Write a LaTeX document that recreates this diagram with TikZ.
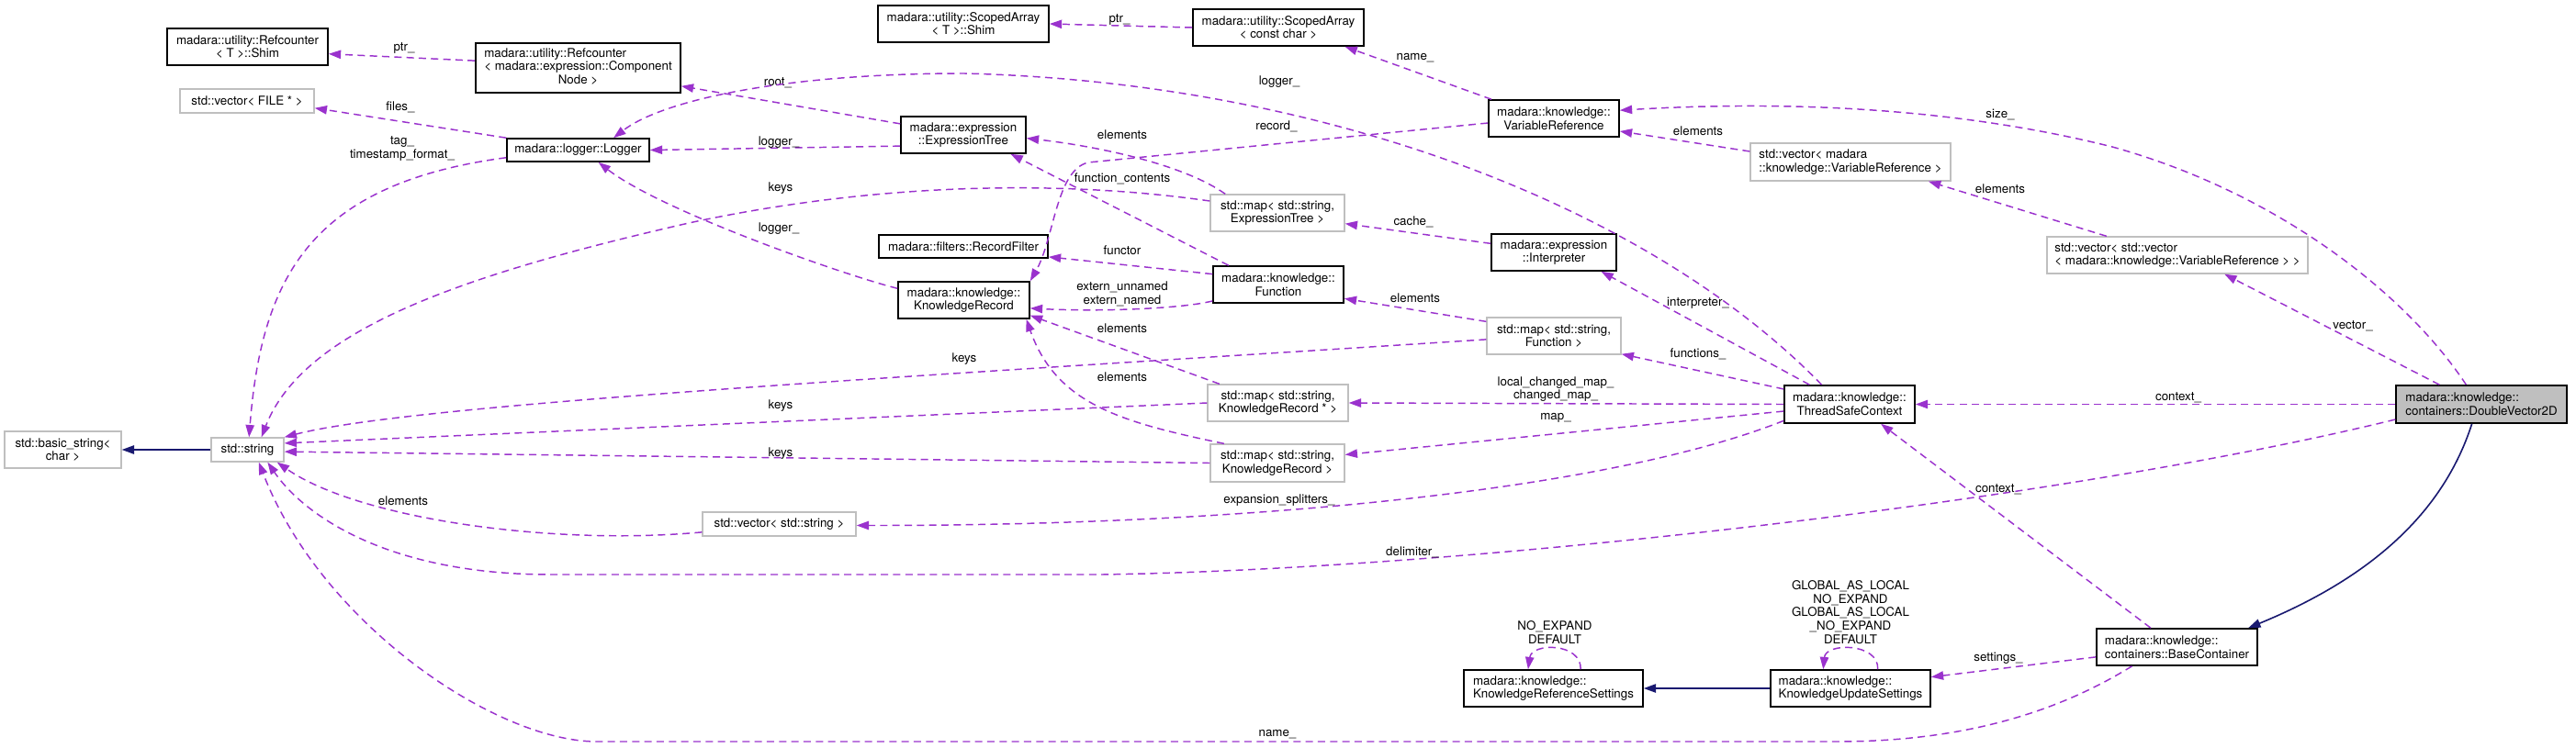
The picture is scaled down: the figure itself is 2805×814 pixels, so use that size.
\documentclass[tikz,border=0pt]{standalone}
\usepackage{fontspec}
\setmainfont{TeX Gyre Heros}
\usetikzlibrary{arrows.meta}

\definecolor{depline}{HTML}{9A32CD}
\definecolor{inhline}{HTML}{191970}
\definecolor{extbox}{HTML}{BFBFBF}

\tikzset{
  cls/.style={draw=black, line width=1.2pt, align=center, inner sep=2pt,
    font=\fontsize{10}{11}\selectfont},
  ext/.style={cls, draw=extbox, line width=1pt},
  cur/.style={cls, fill=extbox},
  boxw/.style={minimum width=#1*0.75pt},
  boxh/.style={minimum height=#1*0.75pt},
  dep/.style={draw=depline, line width=1.1pt, dash pattern=on 6pt off 4pt,
    -{Triangle[length=10pt,width=7pt]}},
  inh/.style={draw=inhline, line width=1.2pt, -{Triangle[length=10pt,width=7pt]}},
  lbl/.style={inner sep=0pt, align=center, text=black,
    font=\fontsize{10}{11}\selectfont},
}

\begin{document}
\begin{tikzpicture}[x=0.75pt, y=-0.75pt]
\useasboundingbox (0,0) rectangle (2805,814);

% classes
\node[cls, boxw=175, boxh=40] (shimref) at (269.5,51) {madara::utility::Refcounter\\< T >::Shim};
\node[cls, boxw=223, boxh=54] (refnode) at (629.5,74) {\begin{tabular}{@{}l@{}}madara::utility::Refcounter\\< madara::expression::Component\\\multicolumn{1}{@{}c@{}}{Node >}\end{tabular}};
\node[ext, boxw=146, boxh=26] (vecfile) at (269,110) {std::vector< FILE * >};
\node[cls, boxw=155, boxh=25] (logger) at (629.5,163.5) {madara::logger::Logger};
\node[cls, boxw=186, boxh=40] (shimscoped) at (1049,26) {madara::utility::ScopedArray\\< T >::Shim};
\node[cls, boxw=186, boxh=40] (scopedchar) at (1392,30) {madara::utility::ScopedArray\\< const char >};
\node[cls, boxw=142, boxh=40] (varref) at (1692,129) {madara::knowledge::\\VariableReference};
\node[cls, boxw=136, boxh=40] (exprtree) at (1049,147) {madara::expression\\::ExpressionTree};
\node[ext, boxw=146, boxh=40] (mapexpr) at (1391,232) {std::map< std::string,\\ExpressionTree >};
\node[cls, boxw=184, boxh=25] (recfilter) at (1049,268.5) {madara::filters::RecordFilter};
\node[cls, boxw=136, boxh=40] (interp) at (1692,275) {madara::expression\\::Interpreter};
\node[ext, boxw=218, boxh=41, align=left] (vecvarref) at (2015,176.5) {std::vector< madara\\::knowledge::VariableReference >};
\node[ext, boxw=284, boxh=40, align=left] (vecvecref) at (2371,278) {std::vector< std::vector\\< madara::knowledge::VariableReference > >};
\node[ext, boxw=127, boxh=40] (basicstr) at (68.5,490) {std::basic\_string<\\char >};
\node[ext, boxw=79, boxh=26] (stdstr) at (269.5,490) {std::string};
\node[cls, boxw=143, boxh=40] (krecord) at (1049.5,327) {madara::knowledge::\\KnowledgeRecord};
\node[cls, boxw=142, boxh=40] (func) at (1392,310) {madara::knowledge::\\Function};
\node[ext, boxw=146, boxh=40] (mapfunc) at (1692,366) {std::map< std::string,\\Function >};
\node[ext, boxw=153, boxh=40] (mapkrptr) at (1391.5,439) {std::map< std::string,\\KnowledgeRecord * >};
\node[ext, boxw=146, boxh=41] (mapkr) at (1391,504.5) {std::map< std::string,\\KnowledgeRecord >};
\node[cls, boxw=142, boxh=41] (tsc) at (2014,440.5) {madara::knowledge::\\ThreadSafeContext};
\node[cur, boxw=186, boxh=41, align=left] (dvec) at (2702,440.5) {madara::knowledge::\\containers::DoubleVector2D};
\node[ext, boxw=167, boxh=26] (vecstr) at (848.5,571) {std::vector< std::string >};
\node[cls, boxw=195, boxh=40, align=left] (krefset) at (1691.5,750) {madara::knowledge::\\KnowledgeReferenceSettings};
\node[cls, boxw=174, boxh=40, align=left] (kupdset) at (2015,750) {madara::knowledge::\\KnowledgeUpdateSettings};
\node[cls, boxw=175, boxh=40, align=left] (basecont) at (2370.5,705) {madara::knowledge::\\containers::BaseContainer};

% inheritance
\draw[inh] (stdstr.west) -- (basicstr.east);
\draw[inh] (kupdset.west) -- (krefset.east);
\draw[inh] (dvec.244) .. controls (2660,560) and (2580,630) .. (basecont.15);

% members
\draw[dep] (refnode.176) -- (shimref.355) node[lbl] at (440,52) {ptr\_};
\draw[dep] (logger.north west) -- (vecfile.354) node[lbl] at (436,117) {files\_};
\draw[dep] (logger.186) .. controls (340,200) and (285,300) .. (stdstr.83)
  node[lbl] at (438,162) {tag\_\\timestamp\_format\_};
\draw[dep] (exprtree.170) -- (refnode.350) node[lbl] at (847,90) {root\_};
\draw[dep] (tsc.145) .. controls (1800,230) and (1450,90) .. (1050,80)
  .. controls (850,80) and (720,110) .. (logger.19) node[lbl] at (1393,89) {logger\_};
\draw[dep] (exprtree.190) -- (logger.east) node[lbl] at (848,155) {logger\_};
\draw[dep] (krecord.170) .. controls (920,300) and (720,230) .. (logger.329)
  node[lbl] at (848,249) {logger\_};
\draw[dep] (mapexpr.170) .. controls (1150,195) and (950,200) .. (750,243)
  .. controls (500,300) and (330,360) .. (stdstr.42) node[lbl] at (850,205) {keys};
\draw[dep] (mapexpr.160) .. controls (1290,180) and (1200,160) .. (exprtree.357)
  node[lbl] at (1222,147) {elements};
\draw[dep] (func.159) -- (exprtree.338) node[lbl] at (1222,195) {function\_contents};
\draw[dep] (varref.184) -- (1185,177) .. controls (1150,185) and (1148,260) .. (krecord.north east)
  node[lbl] at (1390,138) {record\_};
\draw[dep] (scopedchar.west) -- (shimscoped.east) node[lbl] at (1219,21) {ptr\_};
\draw[dep] (varref.163) -- (scopedchar.344) node[lbl] at (1541,63) {name\_};
\draw[dep] (func.171) -- (recfilter.353) node[lbl] at (1222,273) {functor};
\draw[dep] (func.194) .. controls (1290,336) and (1200,340) .. (krecord.353)
  node[lbl] at (1222,320) {extern\_unnamed\\extern\_named};
\draw[dep] (mapfunc.168) -- (func.348) node[lbl] at (1541,325) {elements};
\draw[dep] (mapfunc.183) .. controls (1000,410) and (450,440) .. (stdstr.north east)
  node[lbl] at (1050,391) {keys};
\draw[dep] (mapkrptr.162) -- (krecord.347) node[lbl] at (1222,358) {elements};
\draw[dep] (mapkr.160) .. controls (1220,460) and (1150,440) .. (krecord.343)
  node[lbl] at (1222,411) {elements};
\draw[dep] (mapkrptr.west) -- (stdstr.10) node[lbl] at (850,442) {keys};
\draw[dep] (mapkr.west) -- (stdstr.357) node[lbl] at (850,494) {keys};
\draw[dep] (tsc.154) -- (interp.338) node[lbl] at (1849,330) {interpreter\_};
\draw[dep] (tsc.167) -- (mapfunc.345) node[lbl] at (1849,386) {functions\_};
\draw[dep] (interp.172) -- (mapexpr.351) node[lbl] at (1539,242) {cache\_};
\draw[dep] (tsc.west) -- (mapkrptr.east) node[lbl] at (1694,424) {local\_changed\_map\_\\changed\_map\_};
\draw[dep] (tsc.186) -- (mapkr.7) node[lbl] at (1694,455) {map\_};
\draw[dep] (tsc.194) .. controls (1750,535) and (1350,573) .. (vecstr.359)
  node[lbl] at (1393,545) {expansion\_splitters\_};
\draw[dep] (vecstr.186) .. controls (600,595) and (390,565) .. (stdstr.337)
  node[lbl] at (439,546) {elements};
\draw[dep] (dvec.190) .. controls (2250,545) and (1600,620) .. (1200,626) -- (600,626)
  .. controls (420,626) and (330,560) .. (stdstr.328) node[lbl] at (1538,602) {delimiter\_};
\draw[dep] (basecont.203) .. controls (2250,770) and (2150,808) .. (2000,808) -- (650,808)
  .. controls (540,808) and (350,680) .. (stdstr.312) node[lbl] at (1391,800) {name\_};
\draw[dep] (dvec.128) .. controls (2620,320) and (2480,210) .. (2300,160)
  .. controls (2100,110) and (1900,112) .. (varref.7) node[lbl] at (2178,125) {size\_};
\draw[dep] (vecvarref.174) -- (varref.349) node[lbl] at (1849,143) {elements};
\draw[dep] (vecvecref.165) -- (vecvarref.346) node[lbl] at (2178,206) {elements};
\draw[dep] (dvec.155) -- (vecvecref.338) node[lbl] at (2562,355) {vector\_};
\draw[dep] (dvec.west) -- (tsc.east) node[lbl] at (2372,433) {context\_};
\draw[dep] (basecont.144) -- (tsc.328) node[lbl] at (2176,533) {context\_};
\draw[dep] (basecont.187) -- (kupdset.8) node[lbl] at (2176,717) {settings\_};
\draw[dep] (krefset.35) .. controls (1722,700) and (1668,700) .. (krefset.143)
  node[lbl] at (1693,689) {NO\_EXPAND\\DEFAULT};
\draw[dep] (kupdset.35) .. controls (2046,700) and (1988,700) .. (kupdset.145)
  node[lbl] at (2015,667) {GLOBAL\_AS\_LOCAL\\NO\_EXPAND\\GLOBAL\_AS\_LOCAL\\\_NO\_EXPAND\\DEFAULT};
\end{tikzpicture}
\end{document}
